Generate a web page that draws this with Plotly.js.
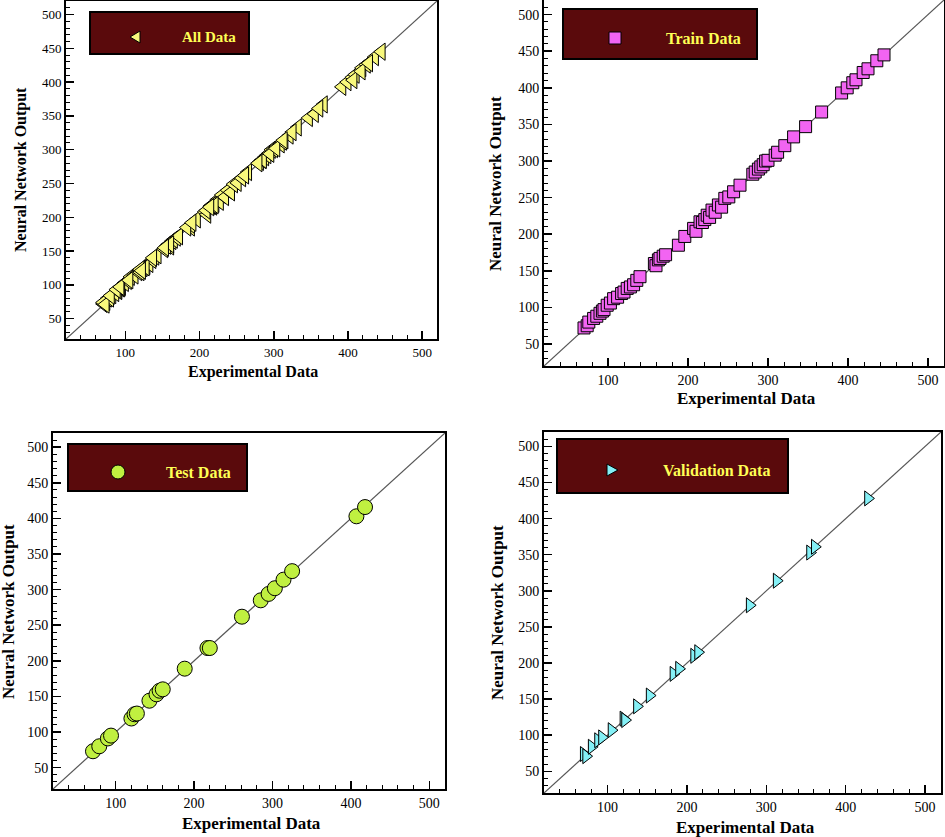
<!DOCTYPE html>
<html>
<head>
<meta charset="utf-8">
<script src="https://cdn.plot.ly/plotly-3.0.1.min.js"></script>
<style>html,body{margin:0;padding:0;background:#fff}#chart{width:945px;height:837px}</style>
</head>
<body>
<div id="chart"></div>
<script>
// ---- data ----
const trainX = [70, 74, 76, 82, 86, 90, 93, 95, 99, 103, 107, 112, 117, 120, 124, 128, 132, 136, 140, 158, 160, 163, 165, 169, 172, 188, 196, 207, 210, 215, 218, 221, 224, 227, 230, 234, 238, 242, 246, 251, 257, 265, 281, 284, 288, 291, 294, 297, 300, 309, 312, 321, 332, 347, 367, 392, 399, 406, 410, 419, 425, 436, 445];
const trainY = [72, 75, 80, 85, 88, 92, 95, 97, 103, 106, 112, 114, 119, 121, 126, 128, 131, 137, 142, 160, 157, 165, 167, 170, 172, 185, 197, 208, 204, 217, 216, 220, 226, 223, 233, 230, 240, 237, 249, 251, 258, 267, 282, 285, 289, 292, 295, 300, 301, 308, 312, 321, 333, 347, 367, 393, 400, 407, 411, 421, 426, 437, 445];
const testX = [71, 79, 90, 94, 120, 124, 127, 143, 152, 156, 160, 188, 217, 220, 261, 285, 295, 303, 314, 325, 407, 418];
const testY = [73, 80, 91, 95, 119, 125, 126, 144, 153, 158, 160, 189, 218, 218, 262, 285, 294, 302, 314, 326, 403, 416];
const valX = [70, 73, 80, 88, 93, 105, 120, 122, 137, 153, 183, 190, 209, 214, 279, 313, 355, 361, 428];
const valY = [74, 71, 84, 93, 97, 107, 123, 121, 140, 155, 185, 192, 210, 215, 280, 314, 353, 361, 428];
const allX = trainX.concat(testX, valX);
const allY = trainY.concat(testY, valY);
const identityLine = [20, 520];
const seriesNames = ['All Data', 'Train Data', 'Test Data', 'Validation Data'];
const xTitle = 'Experimental Data';
const yTitle = 'Neural Network Output';

// ---- layout helpers (pixel -> paper) ----
const W = 945, H = 837;
const px = v => v / W;
const py = v => 1 - v / H;
const FONT = '"Liberation Serif", "Times New Roman", Times, serif';

const panels = [
  {x: allX, y: allY, name: seriesNames[0], symbol: 'triangle-left', color: '#f8f87c', size: 15,
   dom: {l: 66, r: 437, t: 1, b: 339}, tick: 13, tfont: 16,
   leg: {l: 90, r: 249, t: 12, b: 54, mx: 135, my: 37, tx: 238, font: 15},
   xt: {x: 253, y: 372}, yt: {x: 21, y: 170}},
  {x: trainX, y: trainY, name: seriesNames[1], symbol: 'square', color: '#f264f2', size: 12,
   dom: {l: 544, r: 944, t: 0, b: 366}, tick: 14, tfont: 17,
   leg: {l: 563, r: 757, t: 9, b: 59, mx: 615, my: 38, tx: 743, font: 16},
   xt: {x: 746, y: 399}, yt: {x: 496, y: 183}},
  {x: testX, y: testY, name: seriesNames[2], symbol: 'circle', color: '#c0f040', size: 15,
   dom: {l: 53, r: 445, t: 433, b: 789}, tick: 14, tfont: 17,
   leg: {l: 68, r: 247, t: 444, b: 491, mx: 118, my: 472, tx: 233, font: 16},
   xt: {x: 251, y: 823}, yt: {x: 8, y: 612}},
  {x: valX, y: valY, name: seriesNames[3], symbol: 'triangle-right', color: '#84f0f6', size: 13,
   dom: {l: 544, r: 941, t: 432, b: 793}, tick: 14, tfont: 17,
   leg: {l: 557, r: 788, t: 439, b: 493, mx: 612, my: 470, tx: 772, font: 16},
   xt: {x: 745, y: 827}, yt: {x: 497, y: 613}}
];

const traces = [];
const layout = {
  width: W, height: H,
  margin: {l: 0, r: 0, t: 0, b: 0},
  paper_bgcolor: '#ffffff', plot_bgcolor: '#ffffff',
  showlegend: false, hovermode: false,
  font: {family: FONT, color: '#000'},
  shapes: [], annotations: []
};

panels.forEach((p, i) => {
  const n = i === 0 ? '' : String(i + 1);
  const xa = 'x' + n, ya = 'y' + n;
  traces.push({x: identityLine, y: identityLine, xaxis: xa, yaxis: ya, mode: 'lines', type: 'scatter',
    line: {color: '#555555', width: 1.2}});
  traces.push({x: p.x, y: p.y, xaxis: xa, yaxis: ya, mode: 'markers', type: 'scatter', name: p.name,
    marker: {symbol: p.symbol, size: p.size, color: p.color, line: {color: '#000', width: 1}}});

  const common = {
    range: [20, 520], showgrid: false, zeroline: false,
    showline: true, mirror: true, linecolor: '#000', linewidth: 2,
    ticks: 'inside', ticklen: 8, tickwidth: 1.5, tickcolor: '#000', tick0: 0,
    tickfont: {family: FONT, size: p.tick, color: '#000'}
  };
  layout['xaxis' + n] = Object.assign({}, common, {
    domain: [px(p.dom.l), px(p.dom.r)], anchor: ya, dtick: 100,
    minor: {dtick: 20, tick0: 0, ticks: 'inside', ticklen: 4, tickwidth: 1, tickcolor: '#000', showgrid: false}
  });
  layout['yaxis' + n] = Object.assign({}, common, {
    domain: [py(p.dom.b), py(p.dom.t)], anchor: xa, dtick: 50,
    minor: {dtick: 10, tick0: 0, ticks: 'inside', ticklen: 4, tickwidth: 1, tickcolor: '#000', showgrid: false}
  });

  // legend box
  const L = p.leg;
  layout.shapes.push({type: 'rect', xref: 'paper', yref: 'paper',
    x0: px(L.l), x1: px(L.r), y0: py(L.b), y1: py(L.t),
    fillcolor: '#5a0a0c', line: {color: '#000', width: 2}, layer: 'above'});
  // legend key symbol
  const mk = {xref: 'paper', yref: 'paper', fillcolor: p.color, line: {color: '#000', width: 1}, layer: 'above'};
  if (p.symbol === 'triangle-left') {
    layout.shapes.push(Object.assign({type: 'path',
      path: `M ${px(L.mx - 5)} ${py(L.my)} L ${px(L.mx + 5)} ${py(L.my - 6)} L ${px(L.mx + 5)} ${py(L.my + 6)} Z`}, mk));
  } else if (p.symbol === 'triangle-right') {
    layout.shapes.push(Object.assign({type: 'path',
      path: `M ${px(L.mx + 6)} ${py(L.my)} L ${px(L.mx - 5)} ${py(L.my - 6)} L ${px(L.mx - 5)} ${py(L.my + 6)} Z`}, mk));
  } else if (p.symbol === 'square') {
    layout.shapes.push(Object.assign({type: 'rect', x0: px(L.mx - 6), x1: px(L.mx + 6), y0: py(L.my + 6), y1: py(L.my - 6)}, mk));
  } else {
    layout.shapes.push(Object.assign({type: 'circle', x0: px(L.mx - 7), x1: px(L.mx + 7), y0: py(L.my + 7), y1: py(L.my - 7)}, mk));
  }
  layout.annotations.push({xref: 'paper', yref: 'paper', x: px(L.tx), y: py(L.my), xanchor: 'right', yanchor: 'middle',
    text: p.name, showarrow: false, font: {family: FONT, size: L.font, color: '#ffff55', weight: 'bold'}});

  // axis titles
  layout.annotations.push({xref: 'paper', yref: 'paper', x: px(p.xt.x), y: py(p.xt.y), xanchor: 'center', yanchor: 'middle',
    text: xTitle, showarrow: false, font: {family: FONT, size: p.tfont, color: '#000', weight: 'bold'}});
  layout.annotations.push({xref: 'paper', yref: 'paper', x: px(p.yt.x), y: py(p.yt.y), xanchor: 'center', yanchor: 'middle',
    text: yTitle, textangle: -90, showarrow: false, font: {family: FONT, size: p.tfont, color: '#000', weight: 'bold'}});
});

Plotly.newPlot('chart', traces, layout, {displayModeBar: false, staticPlot: true});
</script>
</body>
</html>
